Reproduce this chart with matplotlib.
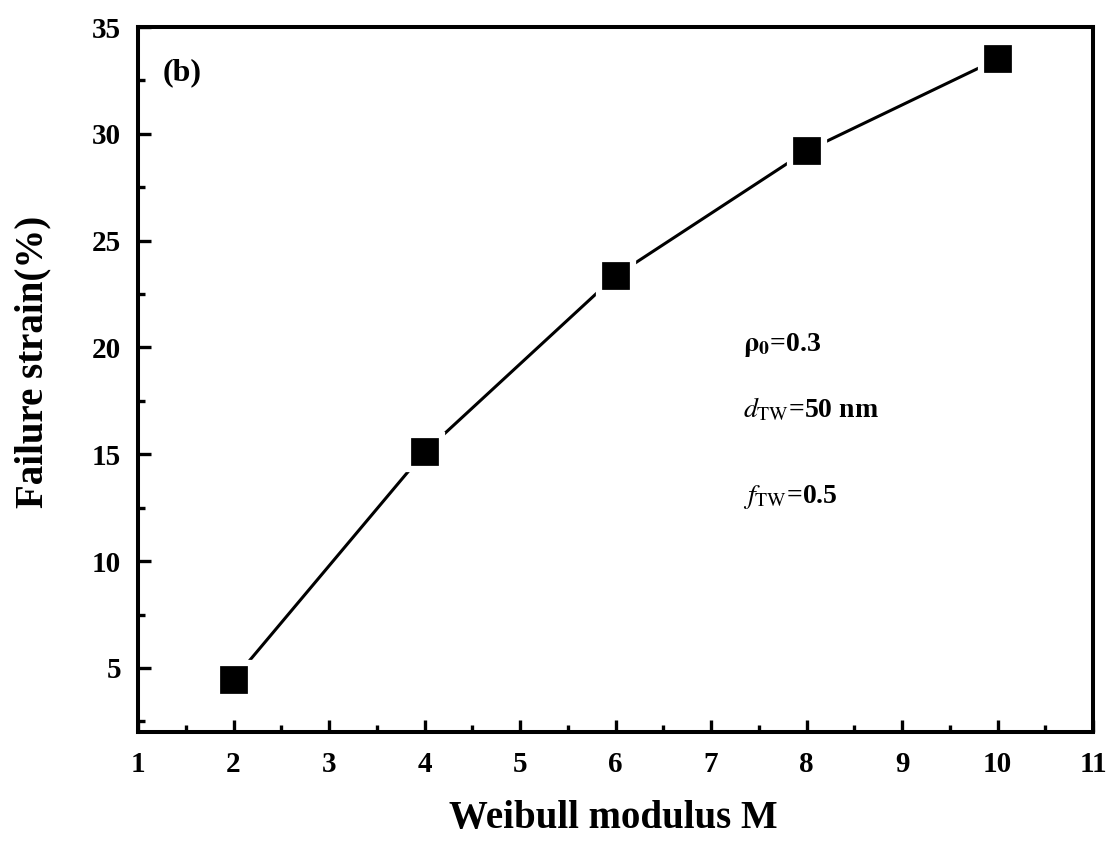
import numpy as np
import matplotlib
matplotlib.use('Agg')
import matplotlib.pyplot as plt
from matplotlib.ticker import MultipleLocator

plt.rcParams['font.family'] = ['Liberation Serif', 'DejaVu Serif']
plt.rcParams['mathtext.fontset'] = 'stix'

# ===== 数据 =====
weibull_m = [2, 4, 6, 8, 10]
failure_strain = [4.45, 15.1, 23.35, 29.2, 33.5]

x_ticks = [1, 2, 3, 4, 5, 6, 7, 8, 9, 10, 11]
y_ticks = [5, 10, 15, 20, 25, 30, 35]

fig = plt.figure(figsize=(11.11, 8.49), dpi=100)
ax = fig.add_axes([138 / 1111, 1 - 732 / 849, (1093 - 138) / 1111, (732 - 27) / 849])

# 白色描边让连线在方块附近断开
ax.plot(weibull_m, failure_strain, color='black', linewidth=2.2,
        marker='s', markersize=24, markerfacecolor='black',
        markeredgecolor='white', markeredgewidth=4.5)

ax.set_xlim(1, 11)
ax.set_ylim(2, 35)
ax.set_xticks(x_ticks)
ax.set_yticks(y_ticks)
ax.xaxis.set_minor_locator(MultipleLocator(0.5))
ax.yaxis.set_minor_locator(MultipleLocator(2.5))

for side in ['left', 'bottom', 'right', 'top']:
    ax.spines[side].set_linewidth(2.9)

ax.tick_params(axis='both', which='major', direction='in', length=9, width=2.4,
               labelsize=21, top=False, right=False)
ax.tick_params(axis='x', which='major', pad=14)
ax.tick_params(axis='y', which='major', pad=12)
ax.tick_params(axis='both', which='minor', direction='in', length=5, width=2.4,
               top=False, right=False)
for lbl in ax.get_xticklabels() + ax.get_yticklabels():
    lbl.set_fontweight('bold')

ax.set_xlabel('Weibull modulus M', fontsize=28, fontweight='bold')
ax.set_ylabel('Failure strain(%)', fontsize=28, fontweight='bold')
ax.xaxis.set_label_coords(0.498, -0.097)
ax.yaxis.set_label_coords(-0.091, 0.525)

ax.text(0.026, 0.935, '(b)', transform=ax.transAxes, fontsize=23, fontweight='bold',
        va='center', ha='left')

ax.text(0.633, 0.549, r'$\mathbf{\rho}_{\mathbf{0}}$=0.3', transform=ax.transAxes,
        fontsize=20, fontweight='bold', va='center', ha='left')
ax.text(0.633, 0.457, r'$\mathit{d}_{\mathrm{TW}}$=50 nm', transform=ax.transAxes,
        fontsize=20, fontweight='bold', va='center', ha='left')
ax.text(0.633, 0.333, r'$\mathit{f}_{\mathrm{TW}}$=0.5', transform=ax.transAxes,
        fontsize=20, fontweight='bold', va='center', ha='left')

fig.savefig('out.png', dpi=100)
